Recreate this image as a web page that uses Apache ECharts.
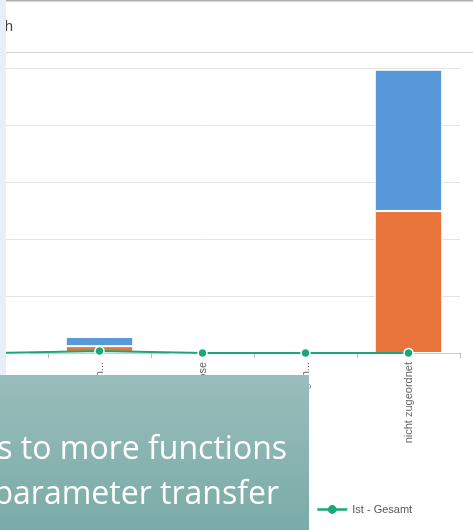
<!DOCTYPE html>
<html><head><meta charset="utf-8">
<script src="https://cdn.jsdelivr.net/npm/echarts@6/dist/echarts.min.js"></script>
<style>html,body{margin:0;padding:0;background:#fff;overflow:hidden}#c{position:absolute;left:-55px;top:0;width:528px;height:530px}</style>
</head><body><div id="c"></div>
<script>
const categories = ['Leistungen gesamt', 'Behandlungen in Kliniken', 'Diagnose', 'Heimbetreuungen extern', 'nicht zugeordnet'];
const orangeValues = [0, 0.12, 0, 0, 2.49];
const blueValues = [0, 0.16, 0, 0, 2.48];
const lineValues = [0, 0.035, 0, 0, 0];
const seriesNames = ['Ist - Anteil A', 'Ist - Anteil B', 'Ist - Gesamt'];
const maxLabelChars = 16;

const OX = 55; // chart canvas is shifted left by this amount
const chart = echarts.init(document.getElementById('c'));
chart.setOption({
  animation: false,
  grid: { left: 0, right: 13, top: 68, bottom: 177, containLabel: false },
  xAxis: {
    type: 'category', data: categories,
    axisLine: { lineStyle: { color: '#cccccc' } },
    axisTick: { show: true, length: 5, lineStyle: { color: '#bbbbbb' } },
    axisLabel: { rotate: 90, fontSize: 11, color: '#666', margin: 9, fontFamily: 'Liberation Sans',
      formatter: v => v.length > maxLabelChars ? v.slice(0, maxLabelChars - 1) + '...' : v }
  },
  yAxis: {
    type: 'value', min: 0, max: 5, interval: 1,
    axisLabel: { show: false },
    splitLine: { lineStyle: { color: '#e4e4e4' } }
  },
  legend: {
    data: ['Ist - Gesamt'], left: 311 + OX, top: 499,
    itemWidth: 30, itemHeight: 11, itemGap: 10,
    lineStyle: { width: 2.5 },
    itemStyle: { borderWidth: 0 },
    textStyle: { fontSize: 11, color: '#555', fontFamily: 'Liberation Sans' }
  },
  series: [
    { name: seriesNames[0], type: 'bar', stack: 's', data: orangeValues, barWidth: '65.5%',
      itemStyle: { color: '#E8743B', borderColor: '#fff', borderWidth: 1 } },
    { name: seriesNames[1], type: 'bar', stack: 's', data: blueValues,
      itemStyle: { color: '#5899DA', borderColor: '#fff', borderWidth: 1 } },
    { name: seriesNames[2], type: 'line', data: lineValues, symbol: 'circle', symbolSize: 9,
      lineStyle: { color: '#19A979', width: 2 },
      itemStyle: { color: '#19A979', borderColor: '#fff', borderWidth: 1.5 } }
  ],
  graphic: [
    { type: 'text', x: 13 + OX, y: 27, style: { text: 'Leistungen nach Fach', fontSize: 15, fill: '#444', align: 'right', verticalAlign: 'middle', fontFamily: 'Liberation Sans' }, z: 100 },
    { type: 'rect', shape: { x: 0, y: 0, width: 6 + OX, height: 530 }, style: { fill: '#e6eef8' }, z: 150 },
    { type: 'rect', shape: { x: 6 + OX, y: 0, width: 467, height: 1.5 }, style: { fill: '#b0b0b0' }, z: 100 },
    { type: 'rect', shape: { x: 6 + OX, y: 52, width: 467, height: 1 }, style: { fill: '#cfcfcf' }, z: 100 },
    { type: 'rect', shape: { x: 0, y: 375, width: 309 + OX, height: 155 },
      style: { fill: new echarts.graphic.LinearGradient(0, 0, 0, 1, [{ offset: 0, color: '#99bdbb' }, { offset: 1, color: '#7aaba8' }]) }, z: 200 },
    { type: 'text', x: 287 + OX, y: 450, style: { text: 'Access to more functions', fontSize: 32, fill: '#ffffff', align: 'right', verticalAlign: 'middle', fontFamily: 'Open Sans' }, z: 201 },
    { type: 'text', x: 279 + OX, y: 495, style: { text: 'via parameter transfer', fontSize: 32, fill: '#ffffff', align: 'right', verticalAlign: 'middle', fontFamily: 'Open Sans' }, z: 201 }
  ]
});
</script></body></html>
